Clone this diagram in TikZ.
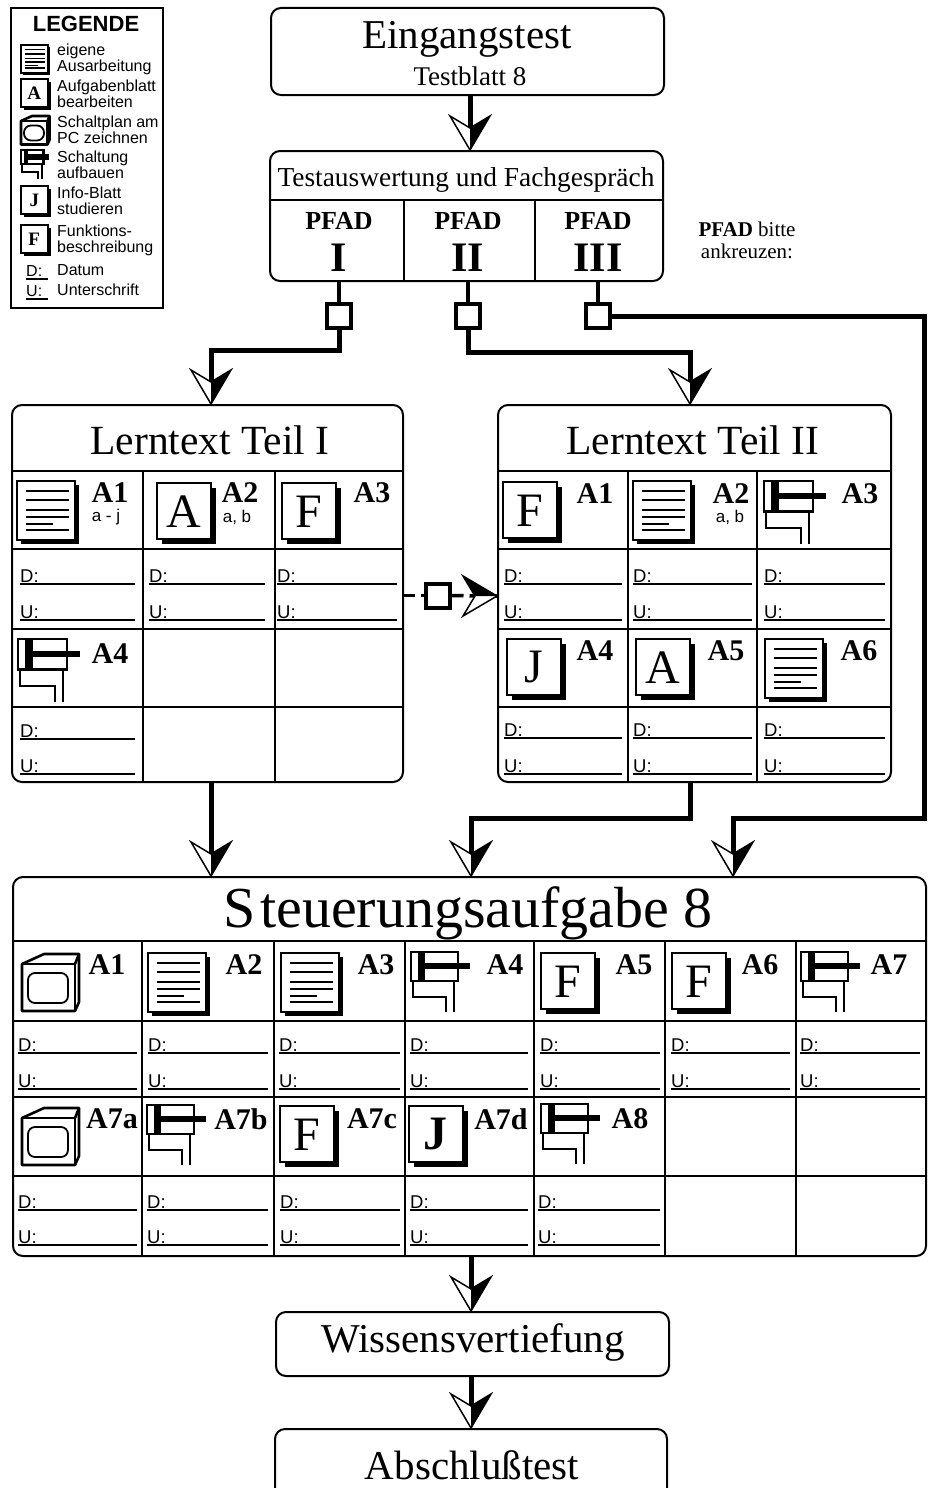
\documentclass[tikz,border=0pt]{standalone}
\usepackage{fontspec}
\setmainfont{Liberation Serif}
\setsansfont{Liberation Sans}
\usepackage{tikz}
\usetikzlibrary{calc}

\newcommand{\fsz}[1]{\fontsize{#1}{#1}\selectfont}
% D: and U: lines of one table row
\newcommand{\signcells}[4]{%
    \foreach \a/\b [count=\i] in {#2} {
        \node [sig] (#1d\i) at (\a,#3-1.5) {D:};
        \draw [sigline] (\a,#3) -- (\b,#3);
        \node [sig] (#1u\i) at (\a,#4-1.5) {U:};
        \draw [sigline] (\a,#4) -- (\b,#4);
    }%
}

\tikzset{
    box/.style={draw,line width=2pt,rounded corners=10pt,inner sep=0pt},
    grid/.style={line width=1.6pt},
    flow/.style={line width=5pt,shorten >=20pt},
    stem/.style={line width=3.5pt},
    check/.style={draw,line width=4pt,fill=white,minimum size=24pt,inner sep=0pt},
    sig/.style={font=\sffamily\fsz{18.5},anchor=base west,inner sep=0pt},
    sigline/.style={line width=1.8pt},
    tag/.style={font=\bfseries\fsz{30},inner sep=0pt},
    sub/.style={font=\sffamily\fsz{17},inner sep=0pt},
    leg/.style={font=\sffamily\fontsize{16}{16}\selectfont,align=left,anchor=west,inner sep=0pt},
    head/.pic={
        \fill [white] (0,0) -- (-34,20) -- (-22,0) -- cycle;
        \draw [line width=1.5pt,line join=miter] (0,0) -- (-34,20) -- (-22,0) -- (-34,-20) -- cycle;
        \fill (0,0) -- (-34,-20) -- (-22,0) -- cycle;
    },
    sheet/.pic={
        \fill (4,4) rectangle (62,63);
        \draw [line width=2pt,fill=white] (0,0) rectangle (58,59);
        \foreach \y in {10,19,29,36,49}
            \draw [line width=1.4pt] (9,\y) -- (52,\y);
        \draw [line width=1.4pt] (9,43) -- (36,43);
    },
    letterbox/.pic={
        \fill (5,5) rectangle (59,61);
        \draw [line width=2pt,fill=white] (0,0) rectangle (54,56);
        \node (letter) [font=\fsz{48},transform shape,inner sep=0pt] at (26.5,28.5) {#1};
    },
    monitor/.pic={
        \draw [line width=2.6pt,line join=round,fill=white] (0,10) -- (22,0) -- (57,0) -- (57,48) -- (53,57) -- (0,57) -- cycle;
        \draw [line width=2.6pt] (0,10) -- (53,10) -- (53,57);
        \draw [line width=2.6pt] (53,10) -- (57,0);
        \draw [line width=1.8pt,rounded corners=7pt] (6,19) rectangle (46,49);
    },
    cylinder/.pic={
        \draw [line width=2.2pt] (0,0) rectangle (47,29);
        \fill (7,0) rectangle (14,29);
        \draw [line width=6pt] (14,14) -- (59,14);
        \draw [line width=2pt] (2,29) -- (2,45) -- (35,45) -- (35,60);
        \draw [line width=2pt] (43,29) -- (43,60);
    },
}

\begin{document}
\begin{tikzpicture}[x=1pt,y=-1pt]
    \clip (0,0) rectangle (933,1488);

    \draw [line width=2.4pt] (11,8) rectangle (163,308);
    \node (legende) [font=\sffamily\bfseries\fsz{22},inner sep=0pt] at (86,24) {LEGENDE};
    \pic (l1) [scale=.47] at (21,45) {sheet};
    \pic (l2) [scale=.5] at (21,79) {letterbox={\bfseries\fsz{38}A}};
    \pic (l3) [scale=.5] at (21,116) {monitor};
    \pic (l4) [scale=.48] at (21,150) {cylinder};
    \pic (l5) [scale=.5] at (21,186) {letterbox={\bfseries\fsz{38}J}};
    \pic (l6) [scale=.5] at (21,225) {letterbox={\bfseries\fsz{38}F}};
    \node (t1) [leg] at (57,59) {eigene\\Ausarbeitung};
    \node (t2) [leg] at (57,94) {Aufgabenblatt\\bearbeiten};
    \node (t3) [leg] at (57,130) {Schaltplan am\\PC zeichnen};
    \node (t4) [leg] at (57,165) {Schaltung\\aufbauen};
    \node (t5) [leg] at (57,201) {Info-Blatt\\studieren};
    \node (t6) [leg] at (57,240) {Funktions-\\beschreibung};
    \node (t7) [leg] at (57,270) {Datum};
    \node (t8) [leg] at (57,290) {Unterschrift};
    \node (ld) [sig,font=\sffamily\fsz{16}] at (26,276) {D:};
    \draw [sigline] (26,279) -- (48,279);
    \node (lu) [sig,font=\sffamily\fsz{16}] at (26,296) {U:};
    \draw [sigline] (26,299) -- (48,299);

    \node (eingang) [box,minimum width=393pt,minimum height=87pt] at (467.5,51.5) {};
    \node (eingangt) [font=\fsz{41},inner sep=0pt] at (467,39) {Eingangstest};
    \node (blatt) [font=\fsz{27},inner sep=0pt] at (470,76) {Testblatt 8};

    \node (auswertung) [box,minimum width=393pt,minimum height=130pt] at (466.5,216) {};
    \node (auswertungt) [font=\fsz{27.4},inner sep=0pt] at (466,180) {Testauswertung und Fachgespräch};
    \draw [grid] (auswertung.west |- 0,200) -- (auswertung.east |- 0,200);
    \foreach \x in {404,535}
        \draw [grid] (\x,200) -- (\x,281);
    \foreach \x/\t [count=\i] in {339/I,468/II,598/III} {
        \node (pfad\i) [font=\bfseries\fsz{26},inner sep=0pt] at (\x,221) {PFAD};
        \node (num\i) [font=\bfseries\fsz{42},inner sep=0pt] at (\x,258) {\t};
        \node (check\i) [check] at (\x,316) {};
        \draw [stem] (auswertung.south -| check\i) -- (check\i);
    }
    \node (bitte) [font=\fontsize{21}{22}\selectfont,inner sep=0pt,align=center] at (747,240) {\textbf{PFAD} bitte\\ankreuzen:};

    \node (teil1) [box,minimum width=391pt,minimum height=377pt] at (207.5,593.5) {};
    \node (teil1t) [font=\fsz{41.5},inner sep=0pt] at (210,440) {Lerntext Teil I};
    \foreach \y in {471,549,629,707}
        \draw [grid] (teil1.west |- 0,\y) -- (teil1.east |- 0,\y);
    \foreach \x in {143,275}
        \draw [grid] (\x,471) -- (\x,782);
    \signcells{a}{20/135,149/265,277/397}{584}{620}
    \signcells{b}{20/135}{739}{774}
    \pic (a1) at (17,481) {sheet};
    \pic (a2) at (157,483) {letterbox=A};
    \pic (a3) at (282,483) {letterbox=F};
    \pic (a4) [scale=1.05] at (18,639) {cylinder};
    \node (a1t) [tag] at (110,493) {A1};
    \node (a1s) [sub] at (106,517) {a - j};
    \node (a2t) [tag] at (240,493) {A2};
    \node (a2s) [sub] at (237,517) {a, b};
    \node (a3t) [tag] at (372,493) {A3};
    \node (a4t) [tag] at (110,654) {A4};

    \node (teil2) [box,minimum width=393pt,minimum height=377pt] at (694.5,593.5) {};
    \node (teil2t) [font=\fsz{41.5},inner sep=0pt] at (693,440) {Lerntext Teil II};
    \foreach \y in {471,549,629,707}
        \draw [grid] (teil2.west |- 0,\y) -- (teil2.east |- 0,\y);
    \foreach \x in {628,757}
        \draw [grid] (\x,471) -- (\x,782);
    \signcells{c}{504/622,633/752,764/885}{584}{620}
    \signcells{e}{504/622,633/752,764/885}{738}{774}
    \pic (c1) at (503,482) {letterbox=F};
    \pic (c2) at (633,481) {sheet};
    \pic (c3) [scale=1.05] at (764,481) {cylinder};
    \pic (c4) at (507,639) {letterbox=J};
    \pic (c5) at (636,639) {letterbox=A};
    \pic (c6) at (765,639) {sheet};
    \node (c1t) [tag] at (595,494) {A1};
    \node (c2t) [tag] at (731,494) {A2};
    \node (c2s) [sub] at (730,517) {a, b};
    \node (c3t) [tag] at (860,494) {A3};
    \node (c4t) [tag] at (595,651) {A4};
    \node (c5t) [tag] at (726,651) {A5};
    \node (c6t) [tag] at (859,651) {A6};

    \node (steuerung) [box,minimum width=913pt,minimum height=379pt] at (469.5,1066.5) {};
    \node (steuerungt) [font=\fsz{58},inner sep=0pt] at (468,913) {S\kern5pt teuerungsaufgabe 8};
    \foreach \y in {941,1021,1097,1176}
        \draw [grid] (steuerung.west |- 0,\y) -- (steuerung.east |- 0,\y);
    \foreach \x in {142,274,405,534,665,796}
        \draw [grid] (\x,941) -- (\x,1256);
    \signcells{f}{18/137,148/268,279/400,410/528,540/660,671/790,800/920}{1053}{1089}
    \signcells{g}{18/137,147/268,280/400,410/528,538/660}{1210}{1245}
    \pic (f1) at (22,954) {monitor};
    \pic (f2) at (148,953) {sheet};
    \pic (f3) at (281,953) {sheet};
    \pic (f4) at (411,952) {cylinder};
    \pic (f5) at (541,953) {letterbox=F};
    \pic (f6) at (672,953) {letterbox=F};
    \pic (f7) at (801,952) {cylinder};
    \pic (g1) at (22,1108) {monitor};
    \pic (g2) at (147,1105) {cylinder};
    \pic (g3) at (280,1106) {letterbox=F};
    \pic (g4) at (409,1106) {letterbox={\bfseries J}};
    \pic (g5) at (541,1104) {cylinder};
    \node (f1t) [tag] at (107,965) {A1};
    \node (f2t) [tag] at (244,965) {A2};
    \node (f3t) [tag] at (376,965) {A3};
    \node (f4t) [tag] at (505,965) {A4};
    \node (f5t) [tag] at (634,965) {A5};
    \node (f6t) [tag] at (760,965) {A6};
    \node (f7t) [tag] at (889,965) {A7};
    \node (g1t) [tag] at (112,1119) {A7a};
    \node (g2t) [tag] at (241,1119) {A7b};
    \node (g3t) [tag] at (372,1119) {A7c};
    \node (g4t) [tag] at (501,1119) {A7d};
    \node (g5t) [tag] at (630,1119) {A8};

    \node (wissen) [box,minimum width=393pt,minimum height=64pt] at (472.5,1344) {};
    \node (wissent) [font=\fsz{41},inner sep=0pt] at (473,1342) {Wissensvertiefung};
    \node (abschluss) [box,minimum width=392pt,minimum height=100pt] at (471,1479) {};
    \node (abschlusst) [font=\fsz{41},inner sep=0pt] at (472,1465) {Abschlußtest};

    \coordinate (h1) at (470,150);
    \coordinate (h2) at (211,404);
    \coordinate (h3) at (690,404);
    \coordinate (h4) at (211,876);
    \coordinate (h5) at (471,876);
    \coordinate (h6) at (733,876);
    \coordinate (h7) at (471,1311);
    \coordinate (h8) at (471,1428);
    \coordinate (h9) at (497,596);

    \draw [flow] (h1 |- eingang.south) -- (h1);
    \draw [flow] (check1) -- (check1 |- 0,350) -- (h2 |- 0,350) -- (h2);
    \draw [flow] (check2) -- (check2 |- 0,352) -- (h3 |- 0,352) -- (h3);
    \draw [flow] (check3) -- (924,316) -- (924,818) -- (h6 |- 0,818) -- (h6);
    \draw [flow] (h4 |- teil1.south) -- (h4);
    \draw [flow] (h3 |- teil2.south) -- (h3 |- 0,818) -- (h5 |- 0,818) -- (h5);
    \draw [flow] (h7 |- steuerung.south) -- (h7);
    \draw [flow] (h8 |- wissen.south) -- (h8);
    \foreach \n in {check1,check2,check3}
        \node [check] at (\n) {};

    \node (check4) [check] at (437.5,595.5) {};
    \draw [stem,dashed,dash pattern=on 11pt off 6pt] (teil1.east |- check4) -- (check4);
    \draw [stem,dashed,dash pattern=on 12pt off 6pt] (check4) -- (h9);

    \foreach \n in {1,...,8}
        \pic [rotate=-90] at (h\n) {head};
    \pic at (h9) {head};
\end{tikzpicture}
\end{document}
